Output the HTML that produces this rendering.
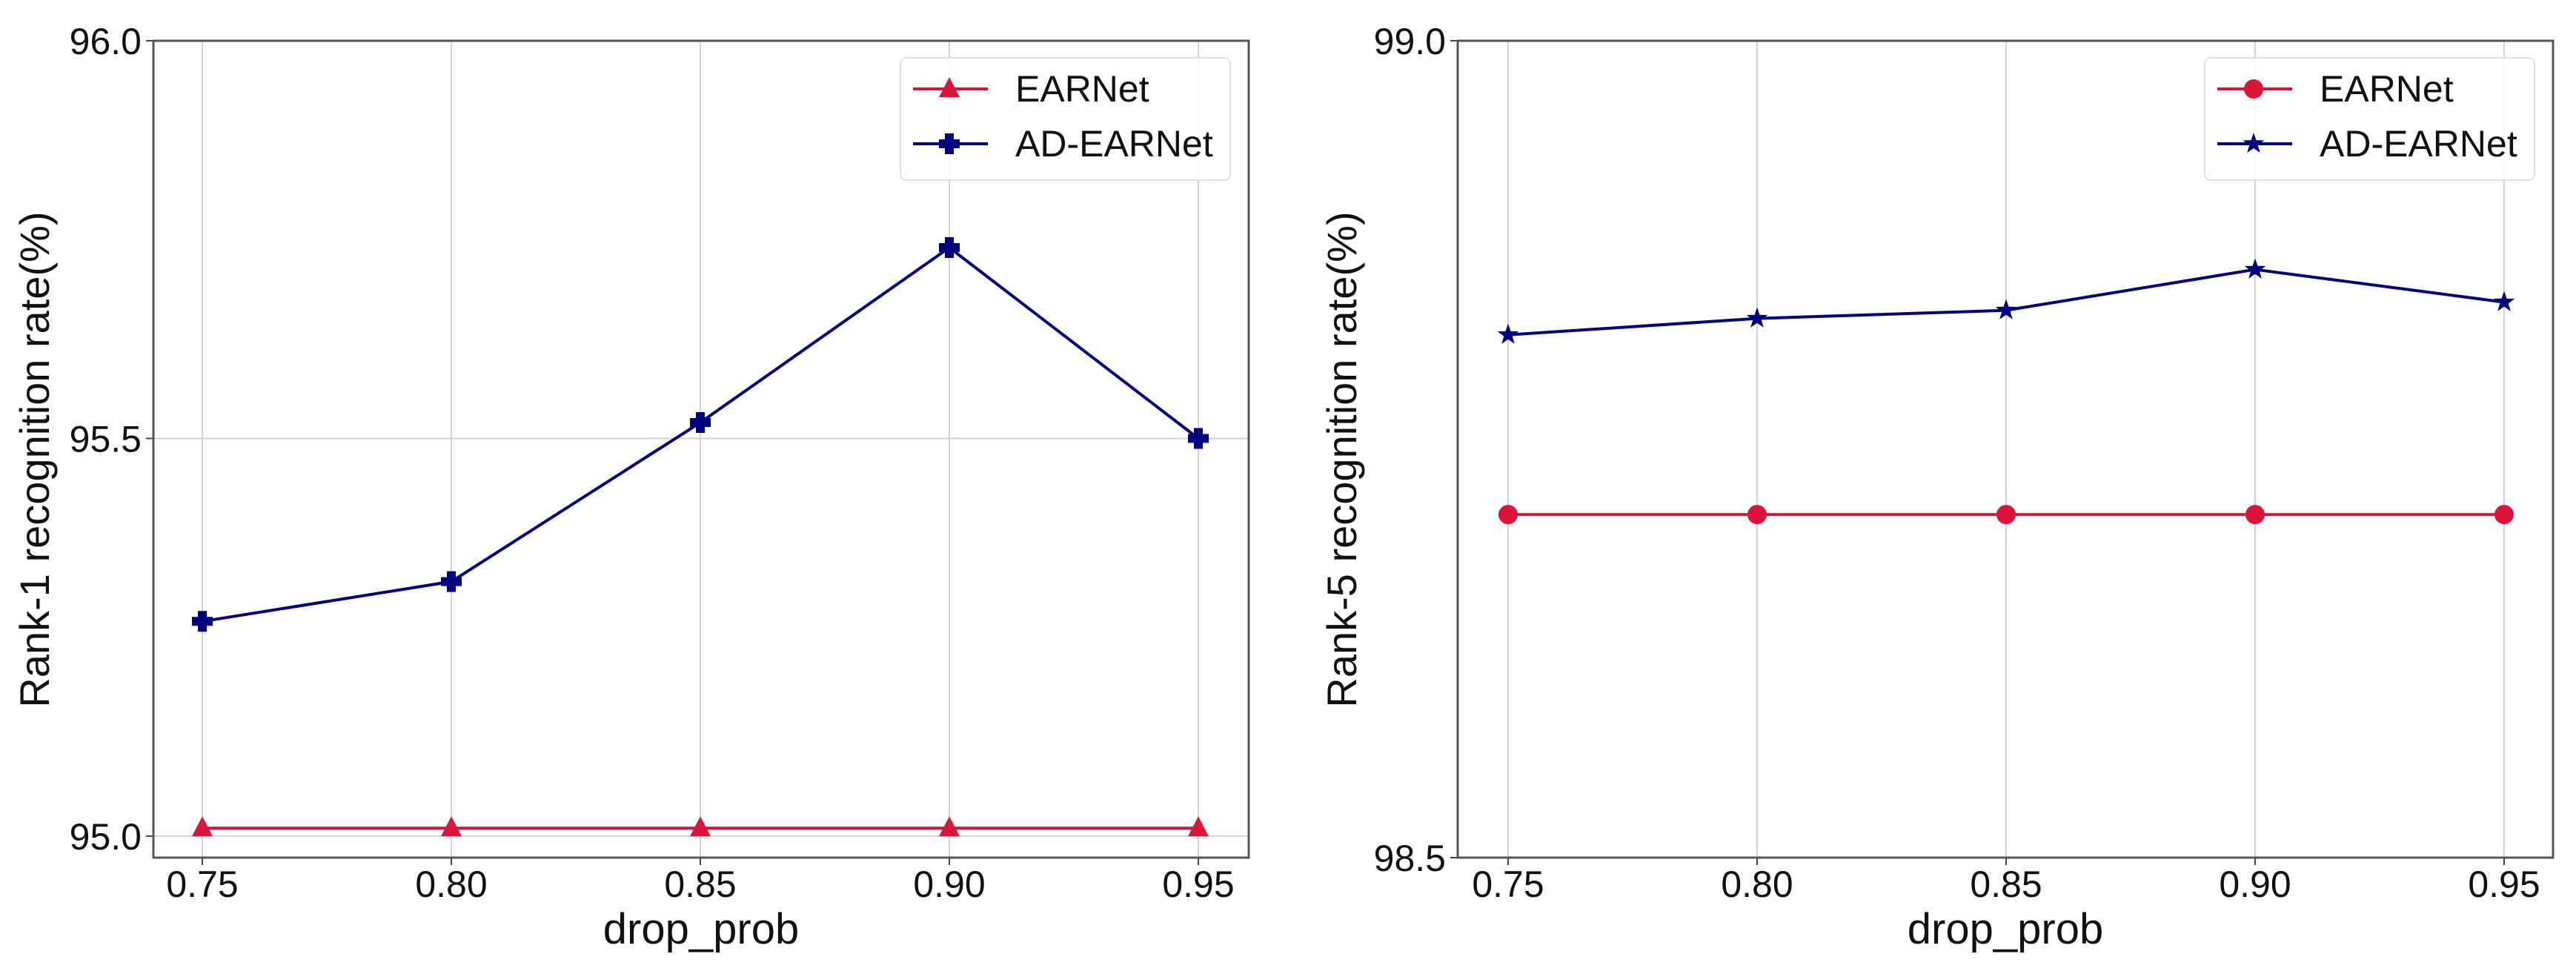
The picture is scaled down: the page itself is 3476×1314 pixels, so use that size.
<!DOCTYPE html>
<html><head><meta charset="utf-8"><style>
html,body{margin:0;padding:0;background:#fff;}
svg{display:block;font-family:"Liberation Sans",sans-serif;}
</style></head><body>
<svg id="fig" width="3476" height="1314" viewBox="0 0 3476 1314" xmlns="http://www.w3.org/2000/svg"></svg>
<script>
const xCategories = [0.75, 0.80, 0.85, 0.90, 0.95];
const xTickLabels = ["0.75", "0.80", "0.85", "0.90", "0.95"];
const leftEarnet = [95.01, 95.01, 95.01, 95.01, 95.01];
const leftAdEarnet = [95.27, 95.32, 95.52, 95.74, 95.50];
const leftYTicks = [95.0, 95.5, 96.0];
const leftYTickLabels = ["95.0", "95.5", "96.0"];
const rightEarnet = [98.71, 98.71, 98.71, 98.71, 98.71];
const rightAdEarnet = [98.82, 98.83, 98.835, 98.86, 98.84];
const rightYTicks = [98.5, 99.0];
const rightYTickLabels = ["98.5", "99.0"];

const NS = "http://www.w3.org/2000/svg";
const svg = document.getElementById("fig");
function mk(tag, attrs, parent){const e=document.createElementNS(NS,tag);for(const k in attrs)e.setAttribute(k,attrs[k]);(parent||svg).appendChild(e);return e;}

function panel(cfg){
  const g = mk("g",{});
  
  
  const L=cfg.left,R=cfg.right,T=55,B=1157;
  const xs = v => cfg.x0 + (v-0.75)/0.05*336;
  const ys = v => T + (cfg.ymax - v)/(cfg.ymax-cfg.ymin)*(B-T);
  xCategories.forEach((c,i)=>{
    const gl=mk("line",{x1:xs(c),x2:xs(c),y1:T,y2:B,stroke:"#d3d3d3","stroke-width":2},g);
    
    
    const tk=mk("line",{x1:xs(c),x2:xs(c),y1:B,y2:B+10,stroke:"#444","stroke-width":2},g);
    
    
    const t=mk("text",{x:xs(c),y:1210,"font-size":50,"text-anchor":"middle",fill:"#111"},g);
    t.textContent=xTickLabels[i];
    
    
  });
  cfg.yTicks.forEach((v,i)=>{
    if(v>cfg.ymin && v<cfg.ymax){
      const gl=mk("line",{x1:L,x2:R,y1:ys(v),y2:ys(v),stroke:"#d3d3d3","stroke-width":2},g);
      
      
    }
    const tk=mk("line",{x1:L-10,x2:L,y1:ys(v),y2:ys(v),stroke:"#444","stroke-width":2},g);
    
    
    const t=mk("text",{x:L-16,y:ys(v)+18,"font-size":50,"text-anchor":"end",fill:"#111"},g);
    t.textContent=cfg.yLabels[i];
    
    
  });
  const fr=mk("rect",{x:L,y:T,width:R-L,height:B-T,fill:"none",stroke:"#555","stroke-width":3},g);
  
  
  function series(vals,color,marker,name){
    const pts=vals.map((v,i)=>xs(xCategories[i])+","+ys(v)).join(" ");
    const pl=mk("polyline",{points:pts,fill:"none",stroke:color,"stroke-width":4},g);
    
    
    vals.forEach((v,i)=>{
      const m=drawMarker(g,marker,xs(xCategories[i]),ys(v),color);
      
      
    });
  }
  series(cfg.earnet,"#dc143c",cfg.m1,"earnet");
  series(cfg.ad,"#000080",cfg.m2,"ad-earnet");
  const xl=mk("text",{x:(L+R)/2,y:1273,"font-size":58,"text-anchor":"middle",fill:"#111"},g);
  xl.textContent="drop_prob";
  
  
  const yl=mk("text",{x:0,y:0,"font-size":56,"text-anchor":"middle",fill:"#111",transform:`translate(${cfg.ylx},620) rotate(-90)`},g);
  yl.textContent=cfg.ylabel;
  
  
  const lg=mk("g",{},g);
  
  
  const bx=R-470;
  mk("rect",{x:bx,y:78,width:445,height:165,rx:8,fill:"#fff","fill-opacity":0.85,stroke:"#e0e0e0","stroke-width":2},lg);
  [[cfg.m1,"#dc143c","EARNet",120],[cfg.m2,"#000080","AD-EARNet",194]].forEach(([m,c,lbl,yy])=>{
    const e=mk("g",{},lg);
    
    
    mk("line",{x1:bx+17,x2:bx+118,y1:yy,y2:yy,stroke:c,"stroke-width":4},e);
    drawMarker(e,m,bx+66,yy,c);
    const t=mk("text",{x:bx+155,y:yy+17,"font-size":50,fill:"#111"},e);
    t.textContent=lbl;
  });
}
function drawMarker(parent,type,x,y,c){
  if(type==="tri") return mk("polygon",{points:`${x},${y-16} ${x-14},${y+11} ${x+14},${y+11}`,fill:c},parent);
  if(type==="plus"){const s=6,l=14;return mk("polygon",{points:`${x-s},${y-l} ${x+s},${y-l} ${x+s},${y-s} ${x+l},${y-s} ${x+l},${y+s} ${x+s},${y+s} ${x+s},${y+l} ${x-s},${y+l} ${x-s},${y+s} ${x-l},${y+s} ${x-l},${y-s} ${x-s},${y-s}`,fill:c},parent);}
  if(type==="circle") return mk("circle",{cx:x,cy:y,r:13,fill:c},parent);
  const p=[];for(let i=0;i<10;i++){const r=i%2?6:15,a=-Math.PI/2+i*Math.PI/5;p.push((x+r*Math.cos(a)).toFixed(1)+","+(y+r*Math.sin(a)).toFixed(1));}
  return mk("polygon",{points:p.join(" "),fill:c},parent);
}
panel({name:"rank1-chart",left:207,right:1685,x0:273,ymin:94.973,ymax:96.0,yTicks:leftYTicks,yLabels:leftYTickLabels,earnet:leftEarnet,ad:leftAdEarnet,m1:"tri",m2:"plus",ylabel:"Rank-1 recognition rate(%)",ylx:66});
panel({name:"rank5-chart",left:1967,right:3445,x0:2035,ymin:98.5,ymax:99.0,yTicks:rightYTicks,yLabels:rightYTickLabels,earnet:rightEarnet,ad:rightAdEarnet,m1:"circle",m2:"star",ylabel:"Rank-5 recognition rate(%)",ylx:1830});
</script>
</body></html>
